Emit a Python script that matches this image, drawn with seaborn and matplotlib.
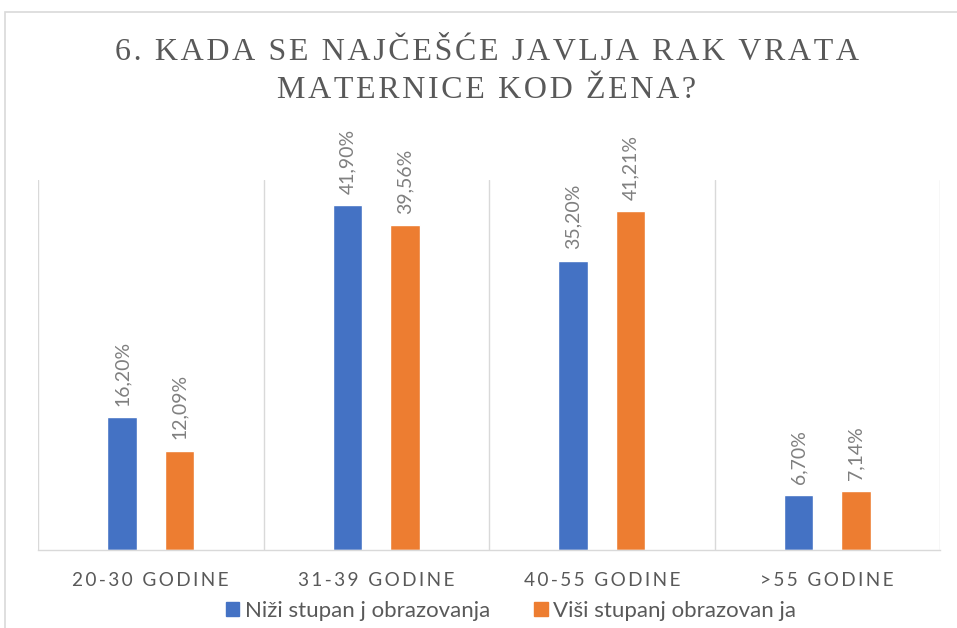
import numpy as np
import pandas as pd
import matplotlib
matplotlib.use("Agg")
import matplotlib.pyplot as plt
import seaborn as sns
from matplotlib.patches import Rectangle, Patch

# ── Data ─────────────────────────────────────────────────────────────────────
categories = ["20-30 GODINE", "31-39 GODINE", "40-55 GODINE", ">55 GODINE"]
series_names = ["Niži stupan j obrazovanja", "Viši stupanj obrazovan ja"]
nizi_values = [16.20, 41.90, 35.20, 6.70]
visi_values = [12.09, 39.56, 41.21, 7.14]
title_lines = ["6. KADA SE NAJČEŠĆE JAVLJA RAK VRATA", "MATERNICE KOD ŽENA?"]

colors = ["#4472C4", "#ED7D31"]
TEXT = "#595959"
GRID = "#d9d9d9"


def spaced(s, sep="\u2009"):
    # fake letter spacing, matplotlib has no tracking option
    return sep.join(s)


df = pd.DataFrame({
    "kategorija": categories * 2,
    "serija": [series_names[0]] * 4 + [series_names[1]] * 4,
    "vrijednost": nizi_values + visi_values,
})

sns.set_theme(style="white")
plt.rcParams["font.family"] = ["Lato", "DejaVu Sans"]

fig = plt.figure(figsize=(9.57, 6.28), dpi=100)
ax = fig.add_axes([38 / 957, 1 - 550 / 628, (940 - 38) / 957, (550 - 180) / 628])

sns.barplot(data=df, x="kategorija", y="vrijednost", hue="serija",
            palette=colors, width=0.51, gap=0.48, saturation=1,
            ax=ax, legend=False)

for cont in ax.containers:
    ax.bar_label(cont, labels=[f"{b.get_height():.2f}%".replace(".", ",") for b in cont],
                 rotation=90, padding=8, fontsize=14, color="#7f7f7f")

ax.set_xlim(-0.5, 3.5)
ax.set_ylim(0, 45)
ax.set_yticks([])
ax.set_xlabel("")
ax.set_ylabel("")
ax.set_xticks(range(len(categories)))
ax.set_xticklabels([spaced(c, "\u2009") for c in categories], fontsize=13.7, color=TEXT)
ax.tick_params(axis="x", length=0, pad=16)
ax.set_xticks(np.arange(-0.5, 4), minor=True)
ax.tick_params(axis="x", which="minor", length=0)
ax.grid(axis="x", which="minor", color=GRID, linewidth=1)
ax.grid(axis="x", which="major", visible=False)
for side in ["top", "left", "right"]:
    ax.spines[side].set_visible(False)
ax.spines["bottom"].set_color(GRID)
ax.spines["bottom"].set_linewidth(1)

# title, serif with wide tracking
for i, line in enumerate(title_lines):
    fig.text(487 / 957, 1 - (53 + 38 * i) / 628, spaced(line, "\u200a"),
             ha="center", va="center", fontsize=23, color=TEXT,
             family=["Liberation Serif", "DejaVu Serif"])

handles = [Patch(facecolor=c, edgecolor=c) for c in colors]
fig.legend(handles, series_names, loc="center", bbox_to_anchor=(511 / 957, 1 - 611 / 628),
           ncol=2, frameon=False, fontsize=16, labelcolor=TEXT,
           handlelength=0.6, handleheight=0.6, handletextpad=0.25, columnspacing=2.0)

# chart area border (cut off on the right and bottom in the reference)
fig.patches.append(Rectangle((5 / 957, -0.1), 1.1, 1.1 - 12 / 628,
                             transform=fig.transFigure, fill=False,
                             edgecolor=GRID, linewidth=1.2))

fig.savefig("out.png", dpi=100)
